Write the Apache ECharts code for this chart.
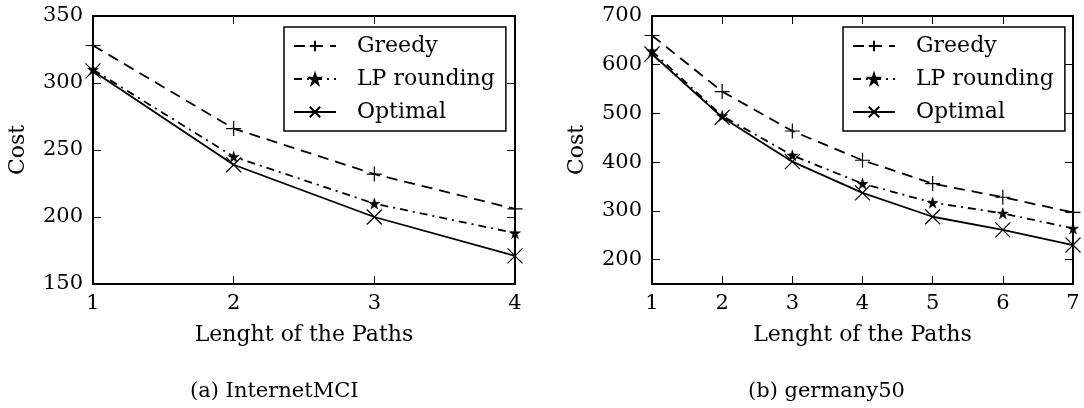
<!DOCTYPE html>
<html>
<head>
<meta charset="utf-8">
<script src="https://cdn.jsdelivr.net/npm/echarts@6/dist/echarts.min.js"></script>
<style>
  html, body { margin: 0; padding: 0; background: #fff; }
  #chart { width: 1084px; height: 408px; }
</style>
</head>
<body>
<div id="chart"></div>
<script>
// ---- data ----
const seriesNames = ['Greedy', 'LP rounding', 'Optimal'];
const xA = [1, 2, 3, 4];
const greedyA = [328, 266, 232, 206];
const lpA = [310, 245, 210, 188];
const optA = [309, 239, 200, 171];

const xB = [1, 2, 3, 4, 5, 6, 7];
const greedyB = [660, 545, 464, 404, 356, 328, 297];
const lpB = [628, 495, 414, 356, 317, 295, 264];
const optB = [622, 492, 401, 337, 288, 261, 230];

const yTicksA = [150, 200, 250, 300, 350];
const yTicksB = [200, 300, 400, 500, 600, 700];

const captionA = '(a) InternetMCI';
const captionB = '(b) germany50';
const xTitle = 'Lenght of the Paths';
const yTitle = 'Cost';

// ---- styles ----
const FONT = 'DejaVu Serif';
const PLUS = 'path://M0,-10L0,10M-10,0L10,0';
const CROSS = 'path://M-10,-10L10,10M10,-10L-10,10';
const STAR = 'path://M0,-10L2.245,-3.09L9.51,-3.09L3.633,1.18L5.878,8.09L0,3.82L-5.878,8.09L-3.633,1.18L-9.51,-3.09L-2.245,-3.09Z';

const styles = [
  { symbol: PLUS, symbolSize: 15, line: [11, 7], item: { color: 'none', borderColor: '#000', borderWidth: 1.2 } },
  { symbol: STAR, symbolSize: 11, line: [8, 5, 2, 5], item: { color: '#000', borderColor: '#000', borderWidth: 0.5 } },
  { symbol: CROSS, symbolSize: 15, line: 'solid', item: { color: 'none', borderColor: '#000', borderWidth: 1.2 } }
];

function pairs(xs, ys) { return xs.map((x, i) => [x, ys[i]]); }

function mkSeries(idx, xs, ys, gi) {
  const s = styles[idx];
  return {
    name: seriesNames[idx],
    type: 'line',
    xAxisIndex: gi * 2,
    yAxisIndex: gi * 2,
    data: pairs(xs, ys),
    symbol: s.symbol,
    symbolSize: s.symbolSize,
    showAllSymbol: true,
    clip: true,
    lineStyle: { color: '#000', width: 1.8, type: s.line },
    itemStyle: s.item,
    emphasis: { disabled: true },
    z: 3
  };
}

const axisLine = { show: true, lineStyle: { color: '#000', width: 2 } };
const tickStyle = { show: true, inside: true, length: 8, lineStyle: { color: '#000', width: 1 } };
const labelStyle = { color: '#000', fontFamily: FONT, fontSize: 21 };

function xAxes(gi, max) {
  return [
    {
      type: 'value', gridIndex: gi, min: 1, max: max, interval: 1, position: 'bottom',
      axisLine: axisLine, axisTick: tickStyle, splitLine: { show: false },
      axisLabel: Object.assign({ margin: 9 }, labelStyle),
      name: xTitle, nameLocation: 'middle', nameGap: 40,
      nameTextStyle: { color: '#000', fontFamily: FONT, fontSize: 22 }
    },
    {
      type: 'value', gridIndex: gi, min: 1, max: max, interval: 1, position: 'top',
      axisLine: axisLine, axisTick: tickStyle, splitLine: { show: false },
      axisLabel: { show: false }
    }
  ];
}

function yAxes(gi, min, max, interval, custom) {
  const lab = Object.assign({ margin: 10 }, labelStyle);
  const tick = Object.assign({}, tickStyle);
  if (custom) { lab.customValues = custom; tick.customValues = custom; }
  const base = { type: 'value', gridIndex: gi, min: min, max: max, splitLine: { show: false } };
  if (interval) base.interval = interval;
  return [
    Object.assign({}, base, {
      position: 'left', axisLine: axisLine, axisTick: tick, axisLabel: lab,
      name: yTitle, nameLocation: 'middle', nameGap: 64, nameRotate: 90,
      nameTextStyle: { color: '#000', fontFamily: FONT, fontSize: 22 }
    }),
    Object.assign({}, base, {
      position: 'right', axisLine: axisLine, axisTick: Object.assign({}, tick), axisLabel: { show: false }
    })
  ];
}

function mkLegend(left) {
  return {
    left: left, top: 27, orient: 'vertical',
    data: seriesNames,
    selectedMode: false,
    backgroundColor: '#fff',
    borderColor: '#000', borderWidth: 1.5, borderRadius: 0,
    padding: [6, 11, 6, 9],
    itemWidth: 42, itemHeight: 13, itemGap: 7,
    textStyle: { color: '#000', fontFamily: FONT, fontSize: 22, lineHeight: 26, padding: [0, 0, 0, 16] }
  };
}

const chart = echarts.init(document.getElementById('chart'), null, { renderer: 'canvas' });
chart.setOption({
  animation: false,
  backgroundColor: '#fff',
  grid: [
    { left: 93, right: 1084 - 515, top: 16, bottom: 408 - 284 },
    { left: 652, right: 1084 - 1073, top: 16, bottom: 408 - 284 }
  ],
  xAxis: [].concat(xAxes(0, 4), xAxes(1, 7)),
  yAxis: [].concat(yAxes(0, 150, 350, 50, null), yAxes(1, 150, 700, null, yTicksB)),
  legend: [mkLegend(284), mkLegend(843)],
  series: [
    mkSeries(0, xA, greedyA, 0), mkSeries(1, xA, lpA, 0), mkSeries(2, xA, optA, 0),
    mkSeries(0, xB, greedyB, 1), mkSeries(1, xB, lpB, 1), mkSeries(2, xB, optB, 1)
  ],
  graphic: [
    { type: 'text', left: 267 - 77, top: 381, style: { text: captionA, fill: '#000', font: '21px "DejaVu Serif"' } },
    { type: 'text', left: 825 - 77, top: 381, style: { text: captionB, fill: '#000', font: '21px "DejaVu Serif"' } }
  ]
});
</script>
</body>
</html>
